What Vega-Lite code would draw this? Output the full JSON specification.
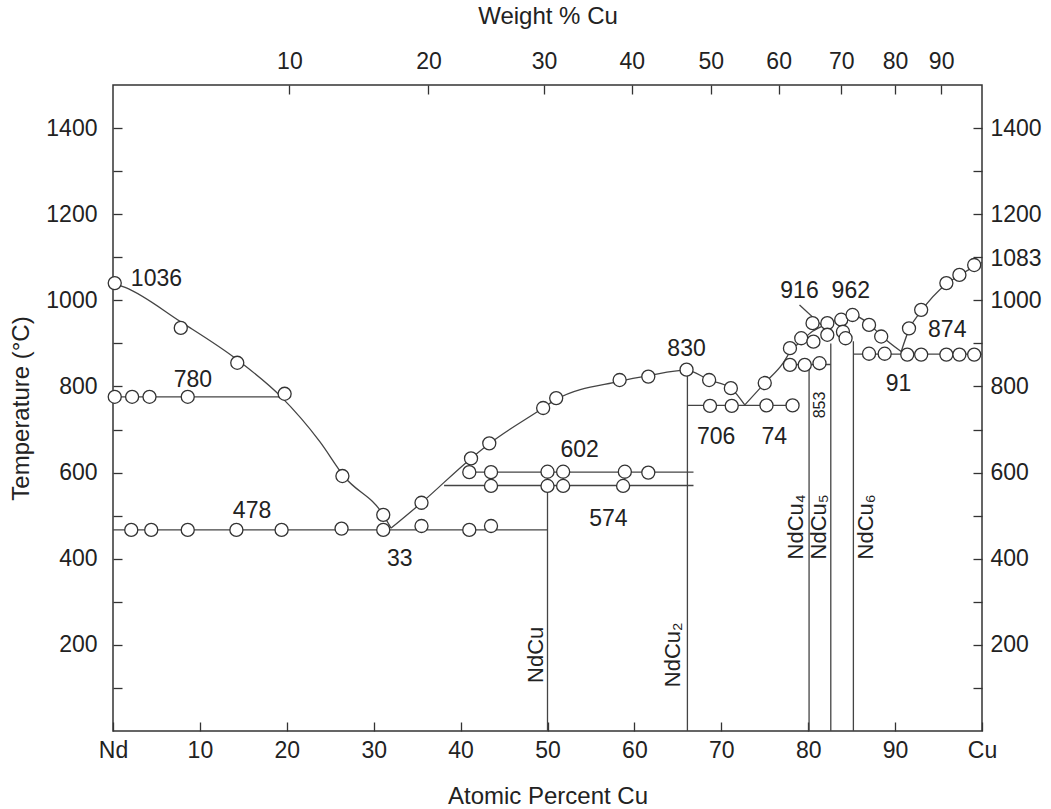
{
  "$schema": "https://vega.github.io/schema/vega-lite/v6.json",
  "autosize": "none",
  "width": 869,
  "height": 646,
  "padding": {"left": 113, "top": 85, "right": 69, "bottom": 78},
  "background": "white",
  "config": {
    "view": {"stroke": "#333", "strokeWidth": 1.5},
    "font": "Liberation Sans",
    "axis": {
      "domain": false, "grid": false,
      "labelFont": "Liberation Sans", "labelFontSize": 23, "labelColor": "#222",
      "titleFont": "Liberation Sans", "titleFontSize": 24, "titleFontWeight": "normal", "titleColor": "#222",
      "tickColor": "#333", "tickWidth": 1.3, "tickSize": -9, "labelOverlap": false, "labelFlush": false, "format": "d"
    },
    "text": {"font": "Liberation Sans", "color": "#222"}
  },
  "datasets": {
    "rules": [
      {"x": 0, "x2": 19.3, "y": 776, "y2": 776},
      {"x": 0, "x2": 50, "y": 467, "y2": 467},
      {"x": 41, "x2": 66.8, "y": 601, "y2": 601},
      {"x": 38.1, "x2": 66.8, "y": 570, "y2": 570},
      {"x": 66.1, "x2": 78.2, "y": 756, "y2": 756},
      {"x": 77.1, "x2": 82.6, "y": 851, "y2": 851},
      {"x": 85.2, "x2": 100, "y": 875, "y2": 875},
      {"x": 50, "x2": 50, "y": 0, "y2": 570},
      {"x": 66.1, "x2": 66.1, "y": 0, "y2": 838},
      {"x": 80.1, "x2": 80.1, "y": 0, "y2": 851},
      {"x": 82.6, "x2": 82.6, "y": 0, "y2": 900},
      {"x": 85.2, "x2": 85.2, "y": 0, "y2": 905},
      {"x": 79.0, "x2": 81.5, "y": 989, "y2": 943}
    ],
    "curves": [
      {"g": "A", "o": 1, "x": 0, "y": 1040},
      {"g": "A", "o": 2, "x": 1.4, "y": 1030},
      {"g": "A", "o": 3, "x": 7.8, "y": 950},
      {"g": "A", "o": 4, "x": 14.3, "y": 862},
      {"g": "A", "o": 5, "x": 19.3, "y": 777},
      {"g": "A", "o": 6, "x": 23.8, "y": 672},
      {"g": "A", "o": 7, "x": 26.6, "y": 591},
      {"g": "A", "o": 8, "x": 31.1, "y": 502},
      {"g": "A", "o": 9, "x": 32.0, "y": 471},
      {"g": "B", "o": 1, "x": 32.0, "y": 471},
      {"g": "B", "o": 2, "x": 35.5, "y": 530},
      {"g": "B", "o": 3, "x": 41.2, "y": 633},
      {"g": "B", "o": 4, "x": 43.3, "y": 667},
      {"g": "B", "o": 5, "x": 49.5, "y": 750},
      {"g": "B", "o": 6, "x": 51.0, "y": 770},
      {"g": "B", "o": 7, "x": 58.3, "y": 812},
      {"g": "B", "o": 8, "x": 61.6, "y": 825},
      {"g": "B", "o": 9, "x": 66.0, "y": 838},
      {"g": "B", "o": 10, "x": 68.6, "y": 815},
      {"g": "B", "o": 11, "x": 71.1, "y": 796},
      {"g": "B", "o": 12, "x": 72.7, "y": 757},
      {"g": "C", "o": 1, "x": 72.7, "y": 757},
      {"g": "C", "o": 2, "x": 75.0, "y": 808},
      {"g": "C", "o": 3, "x": 77.1, "y": 854},
      {"g": "C", "o": 4, "x": 77.9, "y": 880},
      {"g": "C", "o": 5, "x": 79.2, "y": 905},
      {"g": "C", "o": 6, "x": 80.5, "y": 928},
      {"g": "C", "o": 7, "x": 82.2, "y": 945},
      {"g": "C", "o": 8, "x": 83.8, "y": 958},
      {"g": "C", "o": 9, "x": 85.1, "y": 966},
      {"g": "C", "o": 10, "x": 87.0, "y": 945},
      {"g": "C", "o": 11, "x": 88.4, "y": 918},
      {"g": "C", "o": 12, "x": 90.7, "y": 881},
      {"g": "D", "o": 1, "x": 90.7, "y": 881},
      {"g": "D", "o": 2, "x": 91.6, "y": 932},
      {"g": "D", "o": 3, "x": 93.0, "y": 975},
      {"g": "D", "o": 4, "x": 95.9, "y": 1038},
      {"g": "D", "o": 5, "x": 97.4, "y": 1058},
      {"g": "D", "o": 6, "x": 100, "y": 1088}
    ],
    "pts": [
      {"x": 0.2, "y": 1040}, {"x": 7.8, "y": 936}, {"x": 14.3, "y": 855}, {"x": 19.75, "y": 783},
      {"x": 26.4, "y": 592}, {"x": 31.1, "y": 502},
      {"x": 0.2, "y": 776}, {"x": 2.2, "y": 776}, {"x": 4.2, "y": 776}, {"x": 8.6, "y": 776},
      {"x": 2.1, "y": 467}, {"x": 4.4, "y": 467}, {"x": 8.6, "y": 467}, {"x": 14.2, "y": 467},
      {"x": 19.4, "y": 467}, {"x": 26.3, "y": 470}, {"x": 31.1, "y": 467}, {"x": 35.5, "y": 476},
      {"x": 41.0, "y": 467}, {"x": 43.5, "y": 476},
      {"x": 35.5, "y": 530}, {"x": 41.2, "y": 633}, {"x": 43.3, "y": 668}, {"x": 49.5, "y": 750},
      {"x": 51.0, "y": 773}, {"x": 58.3, "y": 815}, {"x": 61.6, "y": 823}, {"x": 66.0, "y": 839},
      {"x": 68.6, "y": 815}, {"x": 71.1, "y": 796},
      {"x": 41.0, "y": 601}, {"x": 43.5, "y": 601}, {"x": 50.0, "y": 602}, {"x": 51.8, "y": 602},
      {"x": 58.9, "y": 602}, {"x": 61.6, "y": 600},
      {"x": 43.5, "y": 569}, {"x": 50.0, "y": 569}, {"x": 51.8, "y": 569}, {"x": 58.7, "y": 569},
      {"x": 68.7, "y": 755}, {"x": 71.2, "y": 755}, {"x": 75.2, "y": 756}, {"x": 78.2, "y": 756},
      {"x": 75.0, "y": 808}, {"x": 77.9, "y": 889}, {"x": 79.2, "y": 912}, {"x": 80.5, "y": 947},
      {"x": 80.6, "y": 904}, {"x": 82.2, "y": 947}, {"x": 82.2, "y": 920}, {"x": 83.8, "y": 955},
      {"x": 84.0, "y": 927}, {"x": 84.3, "y": 912}, {"x": 85.1, "y": 966}, {"x": 87.0, "y": 943},
      {"x": 88.4, "y": 916},
      {"x": 77.9, "y": 850}, {"x": 79.6, "y": 850}, {"x": 81.3, "y": 854},
      {"x": 87.0, "y": 876}, {"x": 88.8, "y": 876}, {"x": 91.4, "y": 874}, {"x": 93.0, "y": 874},
      {"x": 95.9, "y": 874}, {"x": 97.4, "y": 874}, {"x": 99.1, "y": 874},
      {"x": 91.6, "y": 935}, {"x": 93.0, "y": 978}, {"x": 95.9, "y": 1040}, {"x": 97.4, "y": 1059},
      {"x": 99.1, "y": 1082}
    ],
    "labels": [
      {"t": "1036", "x": 5.0, "y": 1050},
      {"t": "780", "x": 9.2, "y": 815},
      {"t": "478", "x": 16.0, "y": 511},
      {"t": "33", "x": 33.0, "y": 400},
      {"t": "602", "x": 53.7, "y": 653},
      {"t": "574", "x": 57.0, "y": 492},
      {"t": "830", "x": 66.0, "y": 887},
      {"t": "706", "x": 69.4, "y": 683},
      {"t": "74", "x": 76.1, "y": 683},
      {"t": "916", "x": 79.0, "y": 1022},
      {"t": "962", "x": 84.9, "y": 1022},
      {"t": "874", "x": 96.0, "y": 931},
      {"t": "91", "x": 90.4, "y": 806}
    ],
    "phases": [
      {"t": "NdCu", "x": 48.7, "y": 177},
      {"t": "NdCu₂", "x": 64.4, "y": 177},
      {"t": "NdCu₄", "x": 78.6, "y": 474},
      {"t": "NdCu₅", "x": 81.3, "y": 474},
      {"t": "NdCu₆", "x": 86.6, "y": 474}
    ],
    "small": [
      {"t": "853", "x": 81.4, "y": 757}
    ]
  },
  "resolve": {"axis": {"x": "independent", "y": "independent"}},
  "layer": [
    {
      "data": {"name": "rules"},
      "mark": {"type": "rule", "color": "#444", "strokeWidth": 1.3},
      "encoding": {
        "x": {"field": "x", "type": "quantitative", "scale": {"domain": [0, 100], "nice": false, "zero": false},
          "axis": {"orient": "bottom", "values": [0, 10, 20, 30, 40, 50, 60, 70, 80, 90, 100],
            "labelExpr": "datum.value == 0 ? 'Nd' : datum.value == 100 ? 'Cu' : datum.label",
            "labelPadding": 17, "title": "Atomic Percent Cu", "titlePadding": 22}},
        "x2": {"field": "x2"},
        "y": {"field": "y", "type": "quantitative", "scale": {"domain": [0, 1500], "nice": false, "zero": false},
          "axis": {"orient": "left", "values": [100, 200, 300, 400, 500, 600, 700, 800, 900, 1000, 1100, 1200, 1300, 1400],
            "labelExpr": "datum.value % 200 == 0 ? datum.label : ''",
            "labelPadding": 25, "title": "Temperature (°C)", "titlePadding": 12}},
        "y2": {"field": "y2"}
      }
    },
    {
      "data": {"name": "curves"},
      "mark": {"type": "line", "color": "#444", "strokeWidth": 1.3, "interpolate": "monotone"},
      "encoding": {
        "x": {"field": "x", "type": "quantitative", "scale": {"domain": [0, 100], "nice": false, "zero": false}, "axis": null},
        "y": {"field": "y", "type": "quantitative", "scale": {"domain": [0, 1500], "nice": false, "zero": false}, "axis": null},
        "detail": {"field": "g"},
        "order": {"field": "o", "type": "quantitative"}
      }
    },
    {
      "data": {"name": "pts"},
      "mark": {"type": "point", "shape": "circle", "filled": true, "fill": "white", "stroke": "#333", "strokeWidth": 1.3, "opacity": 1, "size": 170},
      "encoding": {
        "x": {"field": "x", "type": "quantitative", "scale": {"domain": [0, 100], "nice": false, "zero": false},
          "axis": {"orient": "top", "values": [20.3, 36.3, 49.6, 59.7, 68.8, 76.6, 83.8, 90.0, 95.3],
            "labelExpr": "datum.value < 25 ? '10' : datum.value < 40 ? '20' : datum.value < 55 ? '30' : datum.value < 65 ? '40' : datum.value < 72 ? '50' : datum.value < 80 ? '60' : datum.value < 87 ? '70' : datum.value < 92 ? '80' : '90'",
            "labelPadding": 21, "title": "Weight % Cu", "titlePadding": 22}},
        "y": {"field": "y", "type": "quantitative", "scale": {"domain": [0, 1500], "nice": false, "zero": false},
          "axis": {"orient": "right", "values": [100, 200, 300, 400, 500, 600, 700, 800, 900, 1000, 1098, 1100, 1200, 1300, 1400],
            "labelExpr": "datum.value == 1098 ? '1083' : datum.value % 200 == 0 ? datum.label : ''",
            "tickOpacity": {"condition": {"test": "datum.value == 1098", "value": 0}, "value": 1},
            "labelPadding": 17, "title": null}}
      }
    },
    {
      "data": {"name": "labels"},
      "mark": {"type": "text", "fontSize": 23, "align": "center", "baseline": "middle"},
      "encoding": {
        "x": {"field": "x", "type": "quantitative", "scale": {"domain": [0, 100], "nice": false, "zero": false}, "axis": null},
        "y": {"field": "y", "type": "quantitative", "scale": {"domain": [0, 1500], "nice": false, "zero": false}, "axis": null},
        "text": {"field": "t"}
      }
    },
    {
      "data": {"name": "phases"},
      "mark": {"type": "text", "fontSize": 22, "align": "center", "baseline": "middle", "angle": 270},
      "encoding": {
        "x": {"field": "x", "type": "quantitative", "scale": {"domain": [0, 100], "nice": false, "zero": false}, "axis": null},
        "y": {"field": "y", "type": "quantitative", "scale": {"domain": [0, 1500], "nice": false, "zero": false}, "axis": null},
        "text": {"field": "t"}
      }
    },
    {
      "data": {"name": "small"},
      "mark": {"type": "text", "fontSize": 16, "align": "center", "baseline": "middle", "angle": 270},
      "encoding": {
        "x": {"field": "x", "type": "quantitative", "scale": {"domain": [0, 100], "nice": false, "zero": false}, "axis": null},
        "y": {"field": "y", "type": "quantitative", "scale": {"domain": [0, 1500], "nice": false, "zero": false}, "axis": null},
        "text": {"field": "t"}
      }
    }
  ]
}
